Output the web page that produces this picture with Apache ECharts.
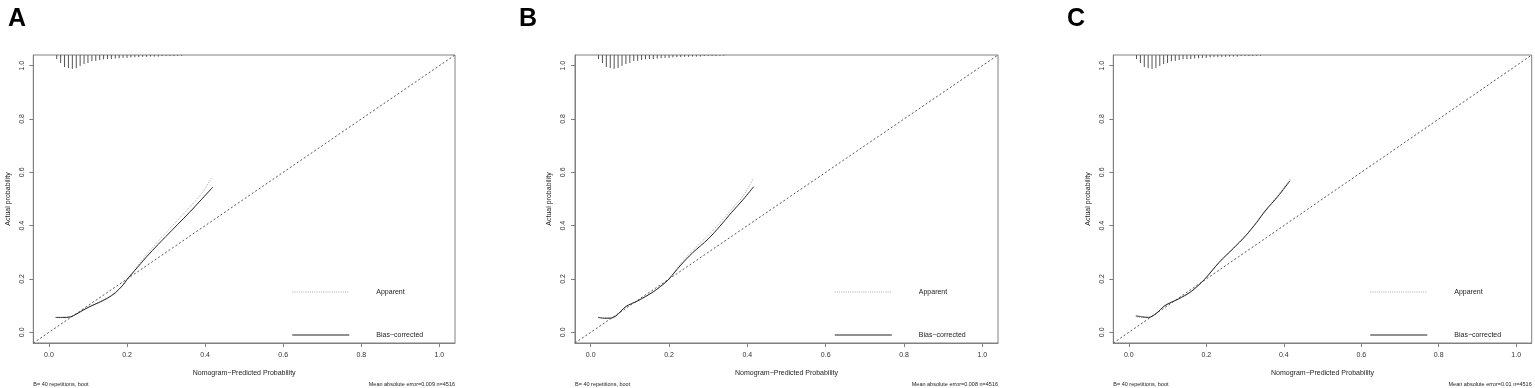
<!DOCTYPE html>
<html>
<head>
<meta charset="utf-8">
<script src="https://cdn.jsdelivr.net/npm/echarts@6/dist/echarts.min.js"></script>
<style>
html,body{margin:0;padding:0;background:#fff;}
#chart{width:1535px;height:388px;}
</style>
</head>
<body>
<div id="chart"></div>
<script>
// ---- data ----
const panelLetters = ['A', 'B', 'C'];
const tickValues = [0, 0.2, 0.4, 0.6, 0.8, 1.0];
const axisRange = [-0.04, 1.04];
const idealEnds = [-0.04, 1.04];

// spike histogram (rug) of predicted probabilities at top of each panel
const rugX = [0.02,0.03,0.04,0.05,0.06,0.07,0.08,0.09,0.10,0.11,0.12,0.13,0.14,0.15,0.16,0.17,0.18,0.19,0.20,0.21,0.22,0.23,0.24,0.25,0.26,0.27,0.28,0.29,0.30,0.31,0.32,0.33,0.34];
const rugDepth = [0.015,0.030,0.045,0.049,0.052,0.049,0.041,0.034,0.030,0.023,0.022,0.019,0.016,0.015,0.015,0.013,0.012,0.011,0.011,0.009,0.008,0.008,0.007,0.007,0.006,0.006,0.006,0.004,0.004,0.004,0.004,0.003,0.003];

// Panel A
const appXA  = [0.02,0.04,0.055,0.07,0.09,0.11,0.13,0.15,0.17,0.19,0.20,0.22,0.25,0.28,0.30,0.33,0.36,0.39,0.416];
const appYA  = [0.055,0.055,0.058,0.070,0.088,0.102,0.115,0.130,0.150,0.178,0.198,0.236,0.292,0.342,0.374,0.421,0.469,0.518,0.578];
const biasXA = [0.017,0.035,0.055,0.07,0.09,0.11,0.13,0.15,0.17,0.19,0.20,0.22,0.25,0.28,0.30,0.33,0.36,0.39,0.42];
const biasYA = [0.056,0.056,0.058,0.068,0.085,0.100,0.113,0.128,0.148,0.178,0.198,0.232,0.283,0.330,0.360,0.405,0.450,0.497,0.545];

// Panel B
const appXB  = [0.02,0.035,0.05,0.065,0.09,0.12,0.16,0.19,0.20,0.23,0.26,0.30,0.33,0.36,0.39,0.416];
const appYB  = [0.055,0.053,0.054,0.063,0.096,0.118,0.152,0.186,0.200,0.258,0.306,0.364,0.411,0.461,0.513,0.579];
const biasXB = [0.019,0.035,0.05,0.065,0.09,0.12,0.16,0.19,0.20,0.23,0.26,0.30,0.33,0.36,0.39,0.416];
const biasYB = [0.056,0.053,0.053,0.062,0.097,0.118,0.152,0.186,0.200,0.252,0.298,0.350,0.398,0.450,0.499,0.546];

// Panel C
const appXC  = [0.02,0.035,0.051,0.07,0.093,0.128,0.16,0.195,0.233,0.27,0.301,0.33,0.352,0.385,0.418];
const appYC  = [0.057,0.056,0.055,0.070,0.100,0.125,0.152,0.198,0.263,0.317,0.363,0.414,0.457,0.514,0.578];
const biasXC = [0.018,0.035,0.051,0.07,0.093,0.128,0.16,0.195,0.233,0.27,0.301,0.33,0.352,0.385,0.416];
const biasYC = [0.062,0.058,0.056,0.070,0.100,0.125,0.152,0.198,0.262,0.315,0.361,0.412,0.455,0.510,0.568];

const appX = [appXA, appXB, appXC];
const appY = [appYA, appYB, appYC];
const biasX = [biasXA, biasXB, biasXC];
const biasY = [biasYA, biasYB, biasYC];

const footLeft = 'B= 40 repetitions, boot';
const footRight = ['Mean absolute error=0.009 n=4516', 'Mean absolute error=0.008 n=4516', 'Mean absolute error=0.01 n=4516'];
const xTitle = 'Nomogram\u2212Predicted Probability';
const yTitle = 'Actual probability';
const nameApparent = 'Apparent';
const nameBias = 'Bias\u2212corrected';

// ---- layout ----
const FONT = '"Liberation Sans", Arial, Helvetica, sans-serif';
const panels = [
  {left: 33.3, width: 421.7, letterX: 8},
  {left: 575.0, width: 423.0, letterX: 519},
  {left: 1113.3, width: 418.4, letterX: 1067}
];
const gridTop = 55, gridHeight = 288;

const chart = echarts.init(document.getElementById('chart'), null, {renderer: 'canvas'});

const grid = [], xAxis = [], yAxis = [], series = [], legend = [], graphic = [];
const pair = (xs, ys) => xs.map((x, k) => [x, ys[k]]);

panels.forEach((p, i) => {
  grid.push({left: p.left, top: gridTop, width: p.width, height: gridHeight,
    show: true, borderColor: '#808080', borderWidth: 1, backgroundColor: 'transparent', containLabel: false});
  xAxis.push({
    type: 'value', gridIndex: i, min: axisRange[0], max: axisRange[1],
    axisLine: {show: true, onZero: false, lineStyle: {color: '#808080', width: 1}},
    axisTick: {show: true, inside: false, length: 4, customValues: tickValues, lineStyle: {color: '#808080'}},
    axisLabel: {show: true, customValues: tickValues, formatter: v => v.toFixed(1), fontSize: 7, margin: 9, color: '#333', fontFamily: FONT},
    splitLine: {show: false},
    name: xTitle, nameLocation: 'middle', nameGap: 27,
    nameTextStyle: {fontSize: 7, color: '#222', fontFamily: FONT}
  });
  yAxis.push({
    type: 'value', gridIndex: i, min: axisRange[0], max: axisRange[1],
    axisLine: {show: true, onZero: false, lineStyle: {color: '#808080', width: 1}},
    axisTick: {show: true, inside: false, length: 4, customValues: tickValues, lineStyle: {color: '#808080'}},
    axisLabel: {show: true, customValues: tickValues, formatter: v => v.toFixed(1), fontSize: 7, margin: 8, rotate: 90, color: '#333', fontFamily: FONT},
    splitLine: {show: false},
    name: yTitle, nameLocation: 'middle', nameGap: 22, nameRotate: 90,
    nameTextStyle: {fontSize: 7, color: '#222', fontFamily: FONT}
  });

  // ideal diagonal
  series.push({
    type: 'line', xAxisIndex: i, yAxisIndex: i, silent: true, symbol: 'none',
    data: idealEnds.map(v => [v, v]),
    lineStyle: {color: '#555', width: 1, type: [2, 2.2]}, z: 1
  });
  // apparent
  series.push({
    name: nameApparent, type: 'line', xAxisIndex: i, yAxisIndex: i, symbol: 'none', smooth: 0.3,
    data: pair(appX[i], appY[i]),
    itemStyle: {color: '#a8a8a8'},
    lineStyle: {color: '#a8a8a8', width: 1, type: [1, 1.2]}, z: 2
  });
  // bias corrected
  series.push({
    name: nameBias, type: 'line', xAxisIndex: i, yAxisIndex: i, symbol: 'none', smooth: 0.3,
    data: pair(biasX[i], biasY[i]),
    itemStyle: {color: '#222'},
    lineStyle: {color: '#222', width: 1}, z: 3
  });
  // rug / spike histogram at top
  series.push({
    type: 'custom', xAxisIndex: i, yAxisIndex: i, silent: true, clip: false,
    data: pair(rugX, rugDepth),
    renderItem: (params, api) => {
      const x = api.value(0), d = api.value(1);
      const p1 = api.coord([x, axisRange[1]]);
      const p2 = api.coord([x, axisRange[1] - d]);
      return {type: 'line', shape: {x1: p1[0], y1: p1[1], x2: p2[0], y2: p2[1]},
        style: {stroke: '#555', lineWidth: 1}};
    }, z: 4
  });

  const legLeft = p.left + (0.622 - axisRange[0]) / (axisRange[1] - axisRange[0]) * p.width;
  legend.push({
    orient: 'vertical', left: legLeft, top: 288, padding: 0, itemGap: 35,
    itemWidth: 57, itemHeight: 10, selectedMode: false,
    itemStyle: {opacity: 0, borderWidth: 0},
    lineStyle: {width: 1},
    data: [nameApparent, nameBias],
    textStyle: {fontSize: 7, color: '#222', fontFamily: FONT, padding: [0, 0, 0, 22]}
  });

  graphic.push({type: 'text', left: p.letterX, top: 7, silent: true,
    style: {text: panelLetters[i], fontSize: 25, fontWeight: 'bold', fill: '#000', fontFamily: FONT}});
  graphic.push({type: 'text', x: p.left, y: 384, silent: true,
    style: {text: footLeft, fontSize: 5.5, fill: '#222', fontFamily: FONT, textAlign: 'left', textVerticalAlign: 'middle'}});
  graphic.push({type: 'text', x: p.left + p.width, y: 384, silent: true,
    style: {text: footRight[i], fontSize: 5.5, fill: '#222', fontFamily: FONT, textAlign: 'right', textVerticalAlign: 'middle'}});
});

chart.setOption({
  animation: false,
  backgroundColor: '#fff',
  grid, xAxis, yAxis, series, legend, graphic
});
</script>
</body>
</html>
